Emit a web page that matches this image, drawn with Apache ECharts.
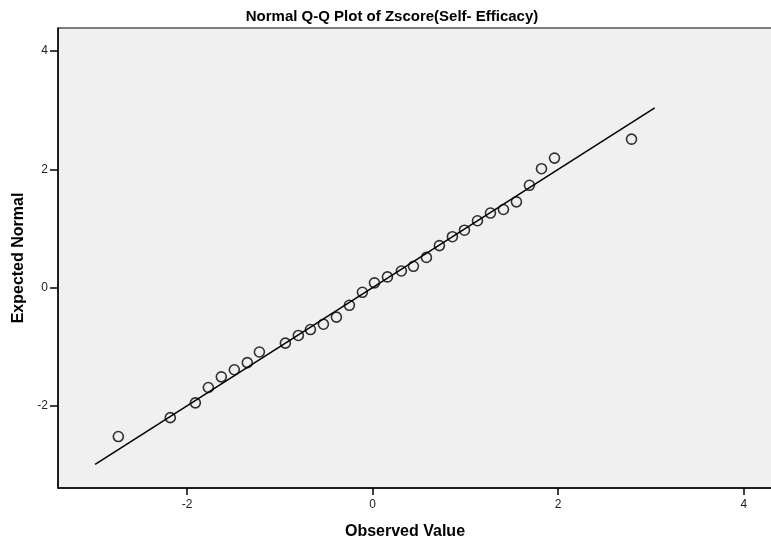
<!DOCTYPE html>
<html>
<head>
<meta charset="utf-8">
<title>Normal Q-Q Plot</title>
<script src="https://cdn.jsdelivr.net/npm/echarts@6/dist/echarts.min.js"></script>
<style>
  html, body { margin: 0; padding: 0; background: #fff; }
  #chart { width: 771px; height: 540px; }
</style>
</head>
<body>
<div id="chart"></div>
<script>
// observed z-scores (x) and expected normal quantiles (y)
const observed = [
  -2.74, -2.18, -1.91, -1.77, -1.63, -1.49, -1.35, -1.22, -0.94, -0.80,
  -0.67, -0.53, -0.39, -0.25, -0.11, 0.02, 0.16, 0.31, 0.44, 0.58,
  0.72, 0.86, 0.99, 1.13, 1.27, 1.41, 1.55, 1.69, 1.82, 1.96, 2.79
];
const expected = [
  -2.52, -2.20, -1.95, -1.69, -1.51, -1.39, -1.27, -1.09, -0.94, -0.81,
  -0.71, -0.62, -0.50, -0.30, -0.08, 0.08, 0.18, 0.28, 0.36, 0.51,
  0.71, 0.86, 0.97, 1.13, 1.26, 1.32, 1.45, 1.73, 2.01, 2.19, 2.51
];
// reference line y = x, drawn between these x values
const refLine = [-2.99, 3.04];
const tickValues = [-2, 0, 2, 4];
const axisMin = -3.39;
const axisMax = 4.39;

const points = observed.map((x, i) => [x, expected[i]]);
const linePts = refLine.map(v => [v, v]);

const chart = echarts.init(document.getElementById('chart'));

const tickStyle = {
  color: '#222',
  fontFamily: 'Liberation Sans, Arial, sans-serif',
  fontSize: 12
};

chart.setOption({
  animation: false,
  backgroundColor: '#fff',
  title: {
    text: 'Normal Q-Q Plot of Zscore(Self- Efficacy)',
    left: 387,
    textAlign: 'center',
    top: 4,
    textStyle: {
      fontFamily: 'Liberation Sans Narrow, Liberation Sans, Arial, sans-serif',
      fontWeight: 'bold',
      fontSize: 15,
      color: '#000'
    }
  },
  grid: {
    left: 58,
    top: 28,
    width: 722,
    height: 460,
    outerBoundsMode: 'none',
    containLabel: false,
    show: true,
    backgroundColor: '#f0f0f0',
    borderColor: '#000',
    borderWidth: 1
  },
  xAxis: {
    type: 'value',
    min: axisMin,
    max: axisMax,
    name: 'Observed Value',
    nameLocation: 'middle',
    nameGap: 36,
    nameTextStyle: {
      fontFamily: 'Liberation Sans, Arial, sans-serif',
      fontWeight: 'bold',
      fontSize: 16,
      color: '#000',
      padding: [0, 28, 0, 0]
    },
    axisLine: { show: true, onZero: false, lineStyle: { color: '#000', width: 1.5 } },
    axisTick: { show: true, length: 7, customValues: tickValues, lineStyle: { color: '#000', width: 1.5 } },
    axisLabel: Object.assign({ margin: 11, customValues: tickValues }, tickStyle),
    splitLine: { show: false }
  },
  yAxis: {
    type: 'value',
    min: axisMin,
    max: axisMax,
    name: 'Expected Normal',
    nameLocation: 'middle',
    nameGap: 30,
    nameTextStyle: {
      fontFamily: 'Liberation Sans, Arial, sans-serif',
      fontWeight: 'bold',
      fontSize: 16,
      color: '#000'
    },
    axisLine: { show: true, onZero: false, lineStyle: { color: '#000', width: 1.5 } },
    axisTick: { show: true, length: 8, customValues: tickValues, lineStyle: { color: '#000', width: 1.5 } },
    axisLabel: Object.assign({ margin: 10, customValues: tickValues }, tickStyle),
    splitLine: { show: false }
  },
  series: [
    {
      type: 'line',
      data: linePts,
      symbol: 'none',
      lineStyle: { color: '#000', width: 1.5 },
      silent: true,
      z: 2
    },
    {
      type: 'scatter',
      data: points,
      symbol: 'circle',
      symbolSize: 10,
      itemStyle: {
        color: 'rgba(0,0,0,0)',
        borderColor: '#000',
        borderWidth: 1.6
      },
      z: 3
    }
  ]
});
</script>
</body>
</html>
